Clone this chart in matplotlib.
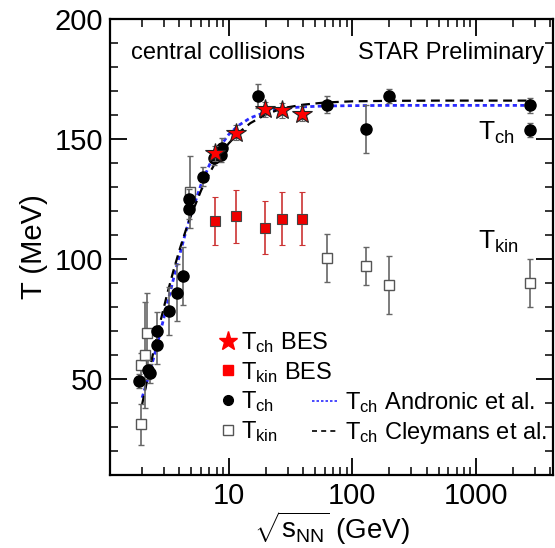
import matplotlib
matplotlib.use("Agg")
import matplotlib.pyplot as plt
from matplotlib.ticker import MultipleLocator, LogLocator, NullFormatter, FixedLocator, FixedFormatter
from matplotlib.lines import Line2D

plt.rcParams['font.family'] = ['Liberation Sans', 'DejaVu Sans']
plt.rcParams['mathtext.fontset'] = 'custom'
plt.rcParams['mathtext.rm'] = 'Liberation Sans'
plt.rcParams['mathtext.it'] = 'Liberation Sans'
plt.rcParams['mathtext.sf'] = 'Liberation Sans'
plt.rcParams['mathtext.bf'] = 'Liberation Sans:bold'

# ---------------- data ----------------
bes_x = [7.7, 11.5, 19.6, 27.0, 39.0]
bes_tch = [144.0, 152.7, 162.3, 161.9, 160.6]
bes_tch_err = [3, 3, 3, 3, 3]
bes_tkin = [116.0, 117.8, 113.0, 116.8, 116.8]
bes_tkin_err = [10, 11, 11, 11, 11]

tch_x = [1.89, 2.25, 2.32, 2.65, 2.65, 3.31, 3.8, 4.3, 4.8, 4.8, 6.2, 7.6, 8.7, 8.8,
         17.2, 62.4, 130, 200, 2760, 2760]
tch_T = [49.2, 53.8, 52.4, 70.0, 64.2, 78.5, 86.0, 93.0, 125.0, 120.7, 134.3, 142.0, 143.5, 146.3,
         168.1, 164.3, 154.0, 167.9, 164.0, 153.8]
tch_err = [3, 4, 4, 8, 8, 10, 12, 12, 4, 4, 4, 3, 3, 4, 5, 3.5, 10, 3, 3, 3]

tkin_x = [1.97, 1.97, 2.11, 2.18, 4.86, 62.4, 130, 200, 2760]
tkin_T = [31.2, 55.8, 60.0, 69.0, 128.0, 100.3, 97.1, 89.2, 90.1]
tkin_err = [8.5, 5, 22, 17, 15, 10, 8, 12, 10]

andr_x = [2.0, 2.2, 2.5, 2.8, 3.2, 3.6, 4.0, 4.5, 5, 6, 7, 8, 10, 12, 15, 20, 25, 30, 40,
          60, 100, 200, 500, 1000, 3000]
andr_T = [42.2, 49.2, 59.5, 69.3, 81.4, 92.1, 101.3, 111.1, 119.1, 131.1, 139.2, 144.8, 151.8,
          155.6, 158.8, 161.2, 162.3, 162.9, 163.4, 163.75, 163.9, 164.0, 164.0, 164.0, 164.0]
cley_x = [2.0, 2.2, 2.5, 2.8, 3.2, 3.6, 4.0, 4.5, 5, 6, 7, 8, 10, 12, 15, 20, 25, 30, 40,
          60, 100, 200, 500, 1000, 2800]
cley_T = [39.4, 49.6, 62.6, 73.6, 85.7, 95.5, 103.6, 111.8, 118.5, 128.6, 135.7, 141.0, 148.1,
          152.5, 156.6, 160.2, 162.1, 163.2, 164.3, 165.2, 165.7, 165.9, 166.0, 166.0, 166.0]

x_ticks = [10, 100, 1000]
x_ticklabels = ["10", "100", "1000"]
y_ticks = [50, 100, 150, 200]

# ---------------- figure ----------------
fig = plt.figure(figsize=(5.55, 5.48), dpi=100)
ax = fig.add_axes([110 / 555, 1 - 475 / 548, 443 / 555, 456 / 548])
ax.set_xscale('log')
ax.set_xlim(1.1, 4200)
ax.set_ylim(10, 200)

blue = '#2a2aff'
ax.plot(andr_x, andr_T, color=blue, lw=2.0, ls=(0, (1.5, 1.2)), zorder=2)
ax.plot(cley_x, cley_T, color='black', lw=1.6, ls=(0, (4, 2.5)), zorder=2)

gray = '#666666'
ax.errorbar(tkin_x, tkin_T, yerr=tkin_err, fmt='s', ms=7, mfc='white', mec='#555555', mew=1.0,
            ecolor=gray, elinewidth=1.2, capsize=2.5, capthick=1.0, zorder=3)
ax.errorbar(tch_x, tch_T, yerr=tch_err, fmt='o', ms=8, mfc='black', mec='black',
            ecolor=gray, elinewidth=1.2, capsize=2.5, capthick=1.0, zorder=4)
ax.errorbar(bes_x, bes_tkin, yerr=bes_tkin_err, fmt='s', ms=7.5, mfc='#ee0000', mec='#444444', mew=0.8,
            ecolor='#cc3333', elinewidth=1.2, capsize=2.5, capthick=1.0, zorder=5)
ax.errorbar(bes_x, bes_tch, yerr=bes_tch_err, fmt='*', ms=15, mfc='#ff0000', mec='#222222', mew=0.8,
            ecolor=gray, elinewidth=1.0, capsize=2.5, capthick=1.0, zorder=6)

# ticks
ax.xaxis.set_major_locator(FixedLocator(x_ticks))
ax.xaxis.set_major_formatter(FixedFormatter(x_ticklabels))
ax.xaxis.set_minor_locator(LogLocator(base=10, subs=[2, 3, 4, 5, 6, 7, 8, 9], numticks=20))
ax.xaxis.set_minor_formatter(NullFormatter())
ax.yaxis.set_major_locator(FixedLocator(y_ticks))
ax.yaxis.set_minor_locator(MultipleLocator(10))
ax.tick_params(which='both', direction='in', top=True, right=True, labelsize=21, pad=5)
ax.tick_params(which='major', length=12, width=1.3)
ax.tick_params(which='minor', length=6, width=1.1)
for s in ax.spines.values():
    s.set_linewidth(1.6)

ax.set_ylabel('T (MeV)', fontsize=21, labelpad=5)
ax.set_xlabel(r'$\sqrt{\mathrm{s}_{\mathrm{NN}}}$ (GeV)', fontsize=20, labelpad=0)

ax.text(0.047, 0.925, 'central collisions', transform=ax.transAxes, fontsize=17,
        ha='left', va='center')
ax.text(0.98, 0.925, 'STAR Preliminary', transform=ax.transAxes, fontsize=17,
        ha='right', va='center')
ax.text(0.83, 0.735, r'T$_{\mathrm{ch}}$', transform=ax.transAxes, fontsize=19,
        ha='left', va='baseline')
ax.text(0.83, 0.497, r'T$_{\mathrm{kin}}$', transform=ax.transAxes, fontsize=19,
        ha='left', va='baseline')

# legends
h1 = [Line2D([], [], ls='none', marker='*', ms=14, mfc='#ff0000', mec='#ff0000'),
      Line2D([], [], ls='none', marker='s', ms=6.5, mfc='#ff0000', mec='#ff0000'),
      Line2D([], [], ls='none', marker='o', ms=7, mfc='black', mec='black'),
      Line2D([], [], ls='none', marker='s', ms=6.5, mfc='white', mec='#555555')]
l1 = [r'T$_{\mathrm{ch}}$ BES', r'T$_{\mathrm{kin}}$ BES', r'T$_{\mathrm{ch}}$', r'T$_{\mathrm{kin}}$']
leg1 = ax.legend(h1, l1, loc='upper left', bbox_to_anchor=(0.245, 0.318), frameon=False,
                 fontsize=17, handlelength=0.8, handletextpad=0.15, labelspacing=0.2,
                 borderpad=0, borderaxespad=0)
ax.add_artist(leg1)
h2 = [Line2D([], [], color=blue, lw=1.2, ls=(0, (1.5, 1.2))),
      Line2D([], [], color='black', lw=1.2, ls=(0, (3, 2.5)))]
l2 = [r'T$_{\mathrm{ch}}$ Andronic et al.', r'T$_{\mathrm{ch}}$ Cleymans et al.']
ax.legend(h2, l2, loc='upper left', bbox_to_anchor=(0.455, 0.186), frameon=False,
          fontsize=17, handlelength=1.1, handletextpad=0.3, labelspacing=0.2,
          borderpad=0, borderaxespad=0)

fig.savefig('out.png', dpi=100)
